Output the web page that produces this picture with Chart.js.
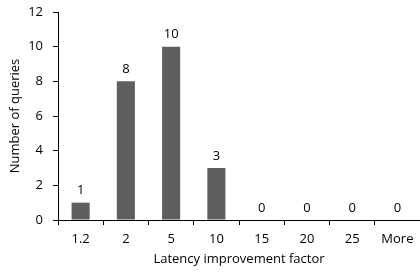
<!DOCTYPE html>
<html>
<head>
<meta charset="utf-8">
<script src="https://cdn.jsdelivr.net/npm/chart.js@4"></script>
<style>
  html, body { margin: 0; padding: 0; background: #fff; }
  canvas { display: block; }
</style>
</head>
<body>
<canvas id="chart" width="420" height="274"></canvas>
<script>
// Histogram buckets and counts
const categories = ["1.2", "2", "5", "10", "15", "20", "25", "More"];
const queryCounts = [1, 8, 10, 3, 0, 0, 0, 0];
const yTicks = [0, 2, 4, 6, 8, 10, 12];

const FONT = { family: "'Open Sans', sans-serif", size: 13 };

// draws the count above each bar
const valueLabels = {
  id: "valueLabels",
  afterDatasetsDraw(chart) {
    const ctx = chart.ctx;
    const meta = chart.getDatasetMeta(0);
    ctx.save();
    ctx.font = "13px 'Open Sans', sans-serif";
    ctx.fillStyle = "#000";
    ctx.textAlign = "center";
    ctx.textBaseline = "middle";
    meta.data.forEach((bar, i) => {
      ctx.fillText(String(queryCounts[i]), bar.x, bar.y - 12);
    });
    ctx.restore();
  },
};

new Chart(document.getElementById("chart").getContext("2d"), {
  type: "bar",
  data: {
    labels: categories,
    datasets: [
      {
        data: queryCounts,
        backgroundColor: "#5f5f5f",
        borderWidth: 0,
        barPercentage: 0.4,
        categoryPercentage: 1,
      },
    ],
  },
  options: {
    responsive: false,
    animation: false,
    devicePixelRatio: 1,
    layout: { padding: { top: 12, left: 0, right: 0, bottom: 0 } },
    plugins: {
      legend: { display: false },
      tooltip: { enabled: false },
    },
    scales: {
      x: {
        grid: { drawOnChartArea: false, tickLength: 5, color: "#000", offset: true },
        border: { color: "#000" },
        ticks: { color: "#000", font: FONT, padding: 6, maxRotation: 0 },
        title: {
          display: true,
          text: "Latency improvement factor",
          color: "#000",
          font: FONT,
          padding: { top: 0, bottom: 7 },
        },
        afterFit(s) {
          s.height = 54;
          s.paddingLeft = 0;
          s.paddingRight = 0;
        },
      },
      y: {
        min: 0,
        max: 12,
        afterBuildTicks(s) {
          s.ticks = yTicks.map((v) => ({ value: v }));
        },
        grid: { drawOnChartArea: false, tickLength: 5, color: "#000" },
        border: { color: "#000" },
        ticks: { color: "#000", font: FONT, padding: 10 },
        title: {
          display: true,
          text: "Number of queries",
          color: "#000",
          font: FONT,
          padding: { top: 7, bottom: 0 },
        },
        afterFit(s) {
          s.width = 58;
          s.paddingTop = 0;
          s.paddingBottom = 0;
        },
      },
    },
  },
  plugins: [valueLabels],
});
</script>
</body>
</html>
